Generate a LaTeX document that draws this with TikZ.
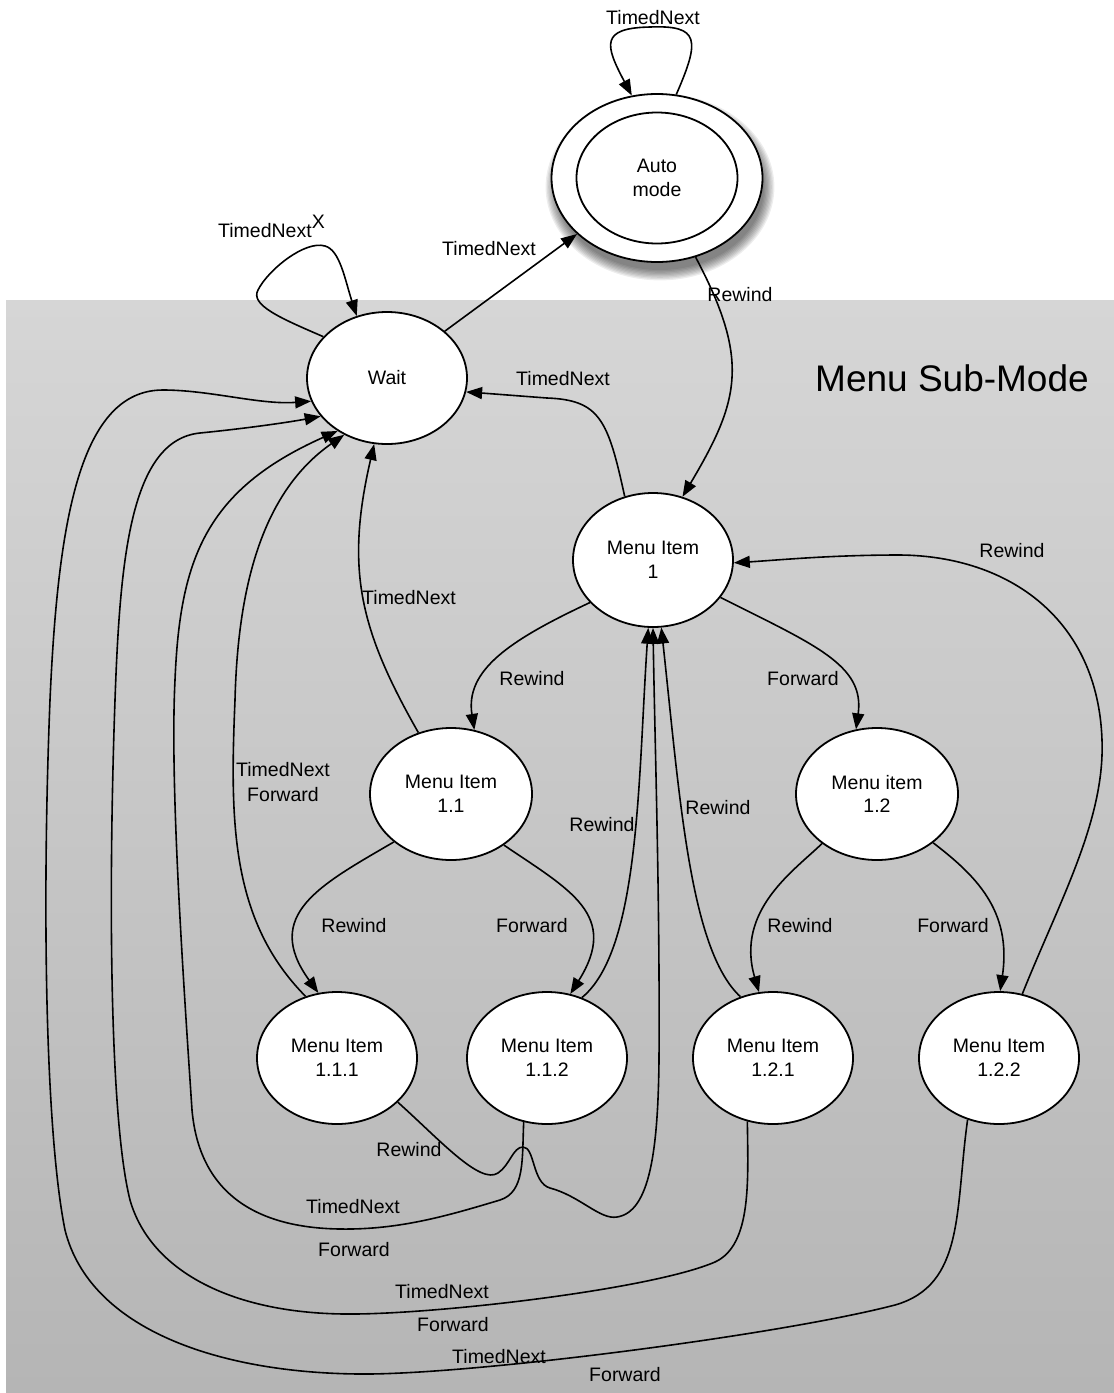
\documentclass[tikz,border=0pt]{standalone}
\usepackage{fontspec}
\setmainfont{Liberation Sans}
\usetikzlibrary{arrows.meta,shapes.geometric}
\definecolor{bgtop}{RGB}{214,214,214}
\definecolor{bgbot}{RGB}{181,181,181}
\begin{document}
\begin{tikzpicture}[x=1pt,y=-1pt,
  state/.style={ellipse,draw,line width=1.8pt,fill=white,minimum width=160pt,minimum height=132pt,inner sep=0pt,align=center,font=\fontsize{19.5}{23.5}\selectfont},
  edge/.style={line width=1.6pt,-{Triangle[length=16pt,width=12pt]}},
  lbl/.style={font=\fontsize{19.5}{23.5}\selectfont,inner sep=0pt}]
\useasboundingbox (0,0) rectangle (1114,1393);
\shade[top color=bgtop,bottom color=bgbot] (6,300) rectangle (1114,1393);
% shadow of auto mode
\foreach \k in {0,...,8}
  \fill[black,opacity=0.07] (660,187) ellipse [x radius={104+\k*1.3}, y radius={83+\k*1.3}];
% states
\node[state,minimum width=211pt,minimum height=168pt] (auto) at (657,178) {Auto\\mode};
\node[ellipse,draw,line width=1.8pt,minimum width=161pt,minimum height=131pt,inner sep=0pt] (autoin) at (657,178) {};
\node[state] (wait) at (387,378) {Wait};
\node[state,minimum height=134pt] (MI1) at (653,560) {Menu Item\\1};
\node[state,minimum width=162pt] (MI11) at (451,794) {Menu Item\\1.1};
\node[state,minimum width=162pt] (MI12) at (877,794) {Menu item\\1.2};
\node[state] (MI111) at (337,1058) {Menu Item\\1.1.1};
\node[state] (MI112) at (547,1058) {Menu Item\\1.1.2};
\node[state] (MI121) at (773,1058) {Menu Item\\1.2.1};
\node[state] (MI122) at (999,1058) {Menu Item\\1.2.2};
% title
\node[inner sep=0pt,font=\fontsize{37}{40}\selectfont] (title) at (952,378) {Menu Sub-Mode};
% edges
\draw[edge] (auto.77) .. controls (700,40) and (700,25) .. (650,27) .. controls (600,28) and (605,45) .. (auto.107);
\draw[edge] (wait.147) .. controls (280,318) and (250,305) .. (258,290) .. controls (268,270) and (305,240) .. (325,246) .. controls (340,250) and (345,280) .. (wait.116);
\draw[edge] (wait.39) -- (auto.215);
\draw[edge] (auto.296) .. controls (750,360) and (740,400) .. (MI1.65);
\draw[edge] (MI1.114) .. controls (608,420) and (600,400) .. (547,398) .. controls (520,396) and (495,394) .. (wait.350);
\draw[edge] (MI1.214) .. controls (510,640) and (465,670) .. (MI11.70);
\draw[edge] (MI1.331) .. controls (815,645) and (865,665) .. (MI12.108);
\draw[edge] (MI11.118) .. controls (360,630) and (345,570) .. (wait.259);
\draw[edge] (MI11.220) .. controls (320,885) and (262,915) .. (MI111.106);
\draw[edge] (MI11.316) .. controls (570,890) and (620,915) .. (MI112.70);
\draw[edge] (MI111.117) .. controls (230,920) and (230,820) .. (235,700) .. controls (238,580) and (265,490) .. (wait.233);
\draw[edge] (MI112.250) .. controls (522,1160) and (525,1192) .. (500,1200) .. controls (450,1215) and (400,1230) .. (340,1229) .. controls (265,1228) and (200,1200) .. (192,1110) .. controls (182,960) and (170,780) .. (175,680) .. controls (180,560) and (205,490) .. (wait.227);
\draw[edge] (MI121.248) .. controls (748,1180) and (752,1245) .. (715,1262) .. controls (650,1290) and (430,1315) .. (345,1314) .. controls (230,1313) and (150,1270) .. (130,1200) .. controls (110,1120) and (108,900) .. (115,700) .. controls (120,560) and (130,440) .. (200,433) .. controls (250,428) and (290,422) .. (wait.210);
\draw[edge] (MI122.243) .. controls (955,1210) and (965,1285) .. (895,1305) .. controls (780,1335) and (470,1375) .. (360,1374) .. controls (220,1373) and (90,1330) .. (65,1230) .. controls (45,1130) and (42,900) .. (50,700) .. controls (58,520) and (80,390) .. (163,390) .. controls (210,390) and (260,405) .. (wait.197);
\draw[edge] (MI111.324) .. controls (440,1140) and (480,1185) .. (498,1173) .. controls (510,1165) and (513,1147) .. (523,1147) .. controls (535,1147) and (532,1183) .. (550,1188) .. controls (580,1196) and (600,1220) .. (617,1217) .. controls (650,1212) and (658,1150) .. (659,1060) .. controls (660,900) and (655,750) .. (MI1.270);
\draw[edge] (MI112.60) .. controls (640,950) and (638,780) .. (MI1.266);
\draw[edge] (MI121.118) .. controls (690,950) and (680,800) .. (MI1.277);
\draw[edge] (MI12.222) .. controls (795,870) and (735,910) .. (MI121.102);
\draw[edge] (MI12.319) .. controls (975,875) and (1012,910) .. (MI122.89);
\draw[edge] (MI122.70) .. controls (1060,900) and (1105,820) .. (1102,740) .. controls (1098,620) and (1010,556) .. (900,555) .. controls (830,555) and (780,560) .. (MI1.358);
% labels
\node[lbl] (l1) at (653,18) {TimedNext};
\node[lbl,anchor=base west] (l2) at (218,237) {TimedNext\raisebox{9pt}{X}};
\node[lbl] (l3) at (489,249) {TimedNext};
\node[lbl] (l4) at (740,295) {Rewind};
\node[lbl] (l5) at (563,379) {TimedNext};
\node[lbl] (l6) at (1012,551) {Rewind};
\node[lbl] (l7) at (409,598) {TimedNext};
\node[lbl] (l8) at (532,679) {Rewind};
\node[lbl] (l9) at (803,679) {Forward};
\node[lbl] (l10) at (283,770) {TimedNext};
\node[lbl] (l11) at (283,795) {Forward};
\node[lbl] (l12) at (602,825) {Rewind};
\node[lbl] (l13) at (718,808) {Rewind};
\node[lbl] (l14) at (354,926) {Rewind};
\node[lbl] (l15) at (532,926) {Forward};
\node[lbl] (l16) at (800,926) {Rewind};
\node[lbl] (l17) at (953,926) {Forward};
\node[lbl] (l18) at (409,1150) {Rewind};
\node[lbl] (l19) at (353,1207) {TimedNext};
\node[lbl] (l20) at (354,1250) {Forward};
\node[lbl] (l21) at (442,1292) {TimedNext};
\node[lbl] (l22) at (453,1325) {Forward};
\node[lbl] (l23) at (499,1357) {TimedNext};
\node[lbl] (l24) at (625,1375) {Forward};
\end{tikzpicture}
\end{document}
